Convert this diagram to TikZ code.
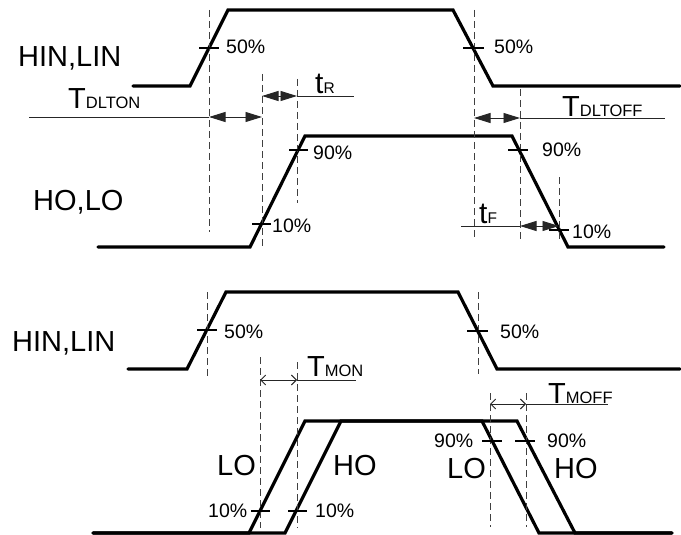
\documentclass[tikz,border=0pt]{standalone}
\usepackage{fontspec}
\setmainfont{Liberation Sans}
\usetikzlibrary{arrows.meta}
\newcommand{\subA}[1]{{\fontsize{16.5}{16.5}\selectfont #1}}
\newcommand{\subB}[1]{{\fontsize{15.5}{15.5}\selectfont #1}}
\begin{document}
\begin{tikzpicture}[x=1pt,y=-1pt,
  wave/.style={line width=3.2pt, line join=miter, line cap=round},
  guide/.style={dash pattern=on 7pt off 4pt, line width=0.9pt, draw=black!75},
  tickmark/.style={line width=1.3pt},
  dimline/.style={line width=0.9pt, draw=black!85},
  fdim/.style={dimline, {Triangle[length=16.5pt,width=10pt]}-{Triangle[length=16.5pt,width=10pt]}},
  odim/.style={dimline, {Straight Barb[length=5pt,width=10pt]}-{Straight Barb[length=5pt,width=10pt]}},
  big/.style={font=\fontsize{29}{29}\selectfont, inner sep=0pt, anchor=base west},
  pct/.style={font=\fontsize{19.5}{19.5}\selectfont, inner sep=0pt, anchor=base west},
  lt/.style={font=\fontsize{30}{30}\selectfont, inner sep=0pt, anchor=base west}
]
\useasboundingbox (0,0) rectangle (681,535);

% ---------- top section ----------
% HIN,LIN waveform
\coordinate (a1) at (133,86); \coordinate (a2) at (190,86); \coordinate (a3) at (228,10);
\coordinate (a4) at (453,10); \coordinate (a5) at (493,86); \coordinate (a6) at (680,86);
\draw[wave] (a1) -- (a2) -- (a3) -- (a4) -- (a5) -- (a6);
% HO,LO waveform
\coordinate (b1) at (98,247); \coordinate (b2) at (250,247); \coordinate (b3) at (305,136);
\coordinate (b4) at (512,136); \coordinate (b5) at (568,247); \coordinate (b6) at (664,247);
\draw[wave] (b1) -- (b2) -- (b3) -- (b4) -- (b5) -- (b6);

% guides
\coordinate (g1t) at (209,10);  \coordinate (g1b) at (209,232);
\coordinate (g2t) at (474,10);  \coordinate (g2b) at (474,237);
\coordinate (g3t) at (262,74);  \coordinate (g3b) at (262,248);
\coordinate (g4t) at (297,79);  \coordinate (g4b) at (297,203);
\coordinate (g5t) at (520,89);  \coordinate (g5b) at (520,241);
\coordinate (g6t) at (559,177); \coordinate (g6b) at (559,240);
\foreach \g in {1,...,6} \draw[guide] (g\g t) -- (g\g b);

% ticks
\draw[tickmark] (199,48) -- (219,48);
\draw[tickmark] (463,48) -- (484,48);
\draw[tickmark] (289,150) -- (308,150);
\draw[tickmark] (252,224) -- (271,224);
\draw[tickmark] (508,150) -- (528,150);
\draw[tickmark] (549,230) -- (569,230);

% dimensions
\coordinate (d1a) at (29,117);  \coordinate (d1b) at (209,117); \coordinate (d1c) at (262,117);
\draw[dimline] (d1a) -- (d1b);  \draw[fdim] (d1b) -- (d1c);
\coordinate (d2a) at (262,96);  \coordinate (d2b) at (297,96);  \coordinate (d2c) at (354,96);
\draw[fdim] (d2a) -- (d2b);     \draw[dimline] (d2b) -- (d2c);
\coordinate (d3a) at (474,118); \coordinate (d3b) at (520,118); \coordinate (d3c) at (665,118);
\draw[fdim] (d3a) -- (d3b);     \draw[dimline] (d3b) -- (d3c);
\coordinate (d4a) at (461,226); \coordinate (d4b) at (520,226); \coordinate (d4c) at (559,226);
\draw[dimline] (d4a) -- (d4b);  \draw[fdim] (d4b) -- (d4c);

% labels
\node[big] (l1) at (18,67) {HIN,LIN};
\node[big] (l2) at (33,210) {HO,LO};
\node[pct] (p1) at (226,54) {50\%};
\node[pct] (p2) at (494,54) {50\%};
\node[pct] (p3) at (313,160) {90\%};
\node[pct] (p4) at (272,232) {10\%};
\node[pct] (p5) at (542,157) {90\%};
\node[pct] (p6) at (572,238) {10\%};
\node[big] (t1) at (68,109) {T\subA{DLTON}};
\node[big] (t2) at (562,117) {T\subA{DLTOFF}};
\node[lt]  (t3) at (315,94) {t\subB{R}};
\node[lt]  (t4) at (479,223) {t\subB{F}};

% ---------- bottom section ----------
\coordinate (c1) at (128,369); \coordinate (c2) at (187,369); \coordinate (c3) at (226,292);
\coordinate (c4) at (458,292); \coordinate (c5) at (497,369); \coordinate (c6) at (680,369);
\draw[wave] (c1) -- (c2) -- (c3) -- (c4) -- (c5) -- (c6);
% LO
\coordinate (e1) at (93,533);  \coordinate (e2) at (249,533); \coordinate (e3) at (305,421);
\coordinate (e4) at (482,421); \coordinate (e5) at (539,533); \coordinate (e6) at (672,533);
\draw[wave] (e1) -- (e2) -- (e3) -- (e4) -- (e5) -- (e6);
% HO
\coordinate (f1) at (93,533);  \coordinate (f2) at (285,533); \coordinate (f3) at (341,421);
\coordinate (f4) at (517,421); \coordinate (f5) at (575,533); \coordinate (f6) at (672,533);
\draw[wave] (f1) -- (f2) -- (f3) -- (f4) -- (f5) -- (f6);

% guides
\coordinate (h1t) at (207,292); \coordinate (h1b) at (207,378);
\coordinate (h2t) at (478,292); \coordinate (h2b) at (478,374);
\coordinate (h3t) at (260,357); \coordinate (h3b) at (260,528);
\coordinate (h4t) at (297,362); \coordinate (h4b) at (297,528);
\coordinate (h5t) at (490,393); \coordinate (h5b) at (490,527);
\coordinate (h6t) at (526,393); \coordinate (h6b) at (526,527);
\foreach \g in {1,...,6} \draw[guide] (h\g t) -- (h\g b);

% ticks
\draw[tickmark] (197,330) -- (217,330);
\draw[tickmark] (467,331) -- (488,331);
\draw[tickmark] (251,511) -- (270,511);
\draw[tickmark] (288,511) -- (307,511);
\draw[tickmark] (482,441) -- (502,441);
\draw[tickmark] (515,441) -- (535,441);

% dimensions
\coordinate (m1a) at (260,380); \coordinate (m1b) at (297,380); \coordinate (m1c) at (356,380);
\draw[odim] (m1a) -- (m1b);     \draw[dimline] (m1b) -- (m1c);
\coordinate (m2a) at (490,404); \coordinate (m2b) at (526,404); \coordinate (m2c) at (608,404);
\draw[odim] (m2a) -- (m2b);     \draw[dimline] (m2b) -- (m2c);

% labels
\node[big] (l3) at (12,351) {HIN,LIN};
\node[pct] (q1) at (224,338) {50\%};
\node[pct] (q2) at (500,338) {50\%};
\node[pct] (q3) at (434,447) {90\%};
\node[pct] (q4) at (547,447) {90\%};
\node[pct] (q5) at (208,517) {10\%};
\node[pct] (q6) at (315,517) {10\%};
\node[big] (l4) at (217,475) {LO};
\node[big] (l5) at (333,475) {HO};
\node[big] (l6) at (447,478) {LO};
\node[big] (l7) at (554,478) {HO};
\node[big] (t5) at (307,376) {T\subA{MON}};
\node[big] (t6) at (548,403) {T\subA{MOFF}};
\end{tikzpicture}
\end{document}
